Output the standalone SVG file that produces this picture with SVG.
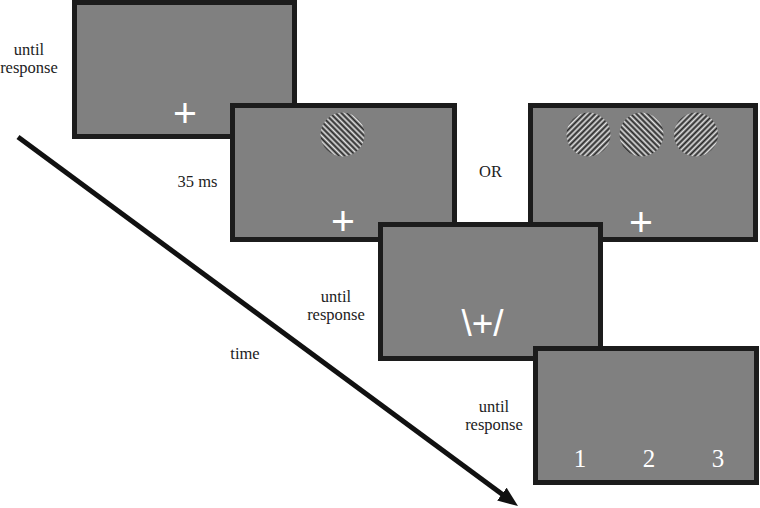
<svg xmlns="http://www.w3.org/2000/svg" width="760" height="508" viewBox="0 0 760 508">
  <defs>
    <pattern id="gratL" width="4" height="4" patternUnits="userSpaceOnUse" patternTransform="rotate(45)">
      <rect width="4" height="4" fill="#e4e4e4"/>
      <rect x="0" width="1" height="4" fill="#7a7a7a"/>
      <rect x="1" width="1" height="4" fill="#262626"/>
      <rect x="2" width="1" height="4" fill="#7a7a7a"/>
    </pattern>
    <pattern id="gratR" width="4" height="4" patternUnits="userSpaceOnUse" patternTransform="rotate(-45)">
      <rect width="4" height="4" fill="#e4e4e4"/>
      <rect x="0" width="1" height="4" fill="#7a7a7a"/>
      <rect x="1" width="1" height="4" fill="#262626"/>
      <rect x="2" width="1" height="4" fill="#7a7a7a"/>
    </pattern>
    <marker id="head" markerUnits="userSpaceOnUse" markerWidth="20" markerHeight="16" viewBox="0 0 20 16" refX="5" refY="8" orient="auto">
      <path d="M0,0 L20,8 L0,16 z" fill="#111"/>
    </marker>
  </defs>
  <style>
    .frame { fill: #808080; stroke: #1c1c1c; stroke-width: 5; }
    .lbl { font-family: "Liberation Serif", "Times New Roman", serif; font-size: 16.5px; fill: #222; text-anchor: middle; }
    .fix { font-family: "Liberation Sans", Arial, sans-serif; font-size: 41px; fill: #ffffff; text-anchor: middle; }
    .cue { font-family: "Liberation Sans", Arial, sans-serif; font-size: 37px; fill: #ffffff; text-anchor: middle; }
    .num { font-family: "Liberation Serif", "Times New Roman", serif; font-size: 25px; fill: #ffffff; text-anchor: middle; }
  </style>
  <rect width="760" height="508" fill="#ffffff"/>

  <g id="connectors">
    <line x1="18" y1="137" x2="505.9" y2="497.1" stroke="#111" stroke-width="5" marker-end="url(#head)"/>
  </g>

  <g id="frame1">
    <rect class="frame" x="74.5" y="2.5" width="220" height="134"/>
    <text class="fix" x="185" y="126.5">+</text>
  </g>
  <g id="frame2">
    <rect class="frame" x="232.5" y="105.5" width="222" height="134"/>
    <circle cx="342.5" cy="134.5" r="22" fill="url(#gratR)"/>
    <text class="fix" x="343" y="234.5">+</text>
  </g>
  <g id="frame3">
    <rect class="frame" x="530.5" y="105.5" width="225" height="134"/>
    <circle cx="588.5" cy="134.5" r="22" fill="url(#gratL)"/>
    <circle cx="641.5" cy="134.5" r="22" fill="url(#gratR)"/>
    <circle cx="696" cy="134.5" r="22" fill="url(#gratL)"/>
    <text class="fix" x="641" y="236">+</text>
  </g>
  <g id="frame4">
    <rect class="frame" x="380.5" y="224.5" width="220" height="134"/>
    <text class="cue" x="482.5" y="336">\+/</text>
  </g>
  <g id="frame5">
    <rect class="frame" x="535.5" y="348.5" width="221" height="134"/>
    <text class="num" x="580" y="467">1</text>
    <text class="num" x="649" y="467">2</text>
    <text class="num" x="718" y="467">3</text>
  </g>

  <g id="labels">
    <text class="lbl" x="29" y="55">until</text>
    <text class="lbl" x="29" y="73">response</text>
    <text class="lbl" x="197.5" y="187">35 ms</text>
    <text class="lbl" x="490.5" y="177">OR</text>
    <text class="lbl" x="336" y="302">until</text>
    <text class="lbl" x="336" y="320">response</text>
    <text class="lbl" x="245" y="359">time</text>
    <text class="lbl" x="494" y="412">until</text>
    <text class="lbl" x="494" y="430">response</text>
  </g>
</svg>
